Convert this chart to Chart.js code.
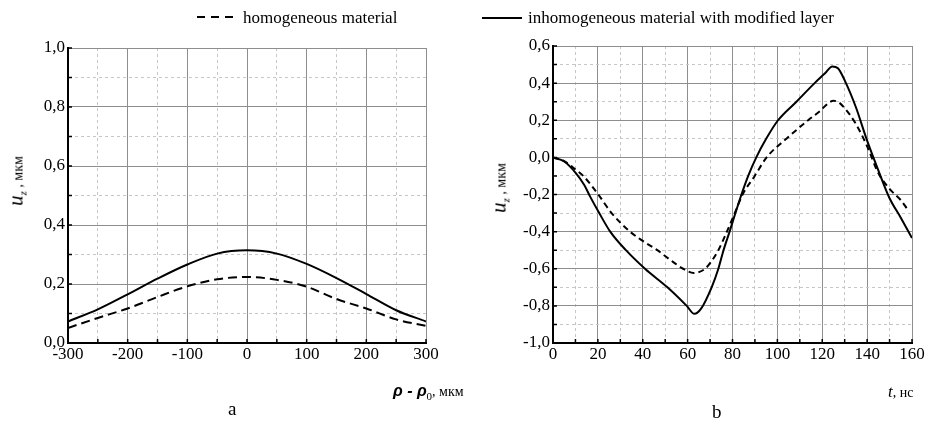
<!DOCTYPE html>
<html>
<head>
<meta charset="utf-8">
<script src="https://cdn.jsdelivr.net/npm/chart.js@4.4.0/dist/chart.umd.min.js"></script>
<style>
  body { margin: 0; background: #fff; font-family: "Liberation Serif", serif; }
  #wrap { position: relative; width: 933px; height: 423px; overflow: hidden; }
  .box { position: absolute; top: 0; height: 423px; }
  #boxA { left: 0; width: 470px; }
  #boxB { left: 466px; width: 467px; }
  .txt { position: absolute; white-space: nowrap; color: #000; line-height: 20px; }
  .leg { font-size: 17px; }
  .rho { font-family: "Liberation Sans", sans-serif; font-weight: bold; font-style: italic; font-size: 16px; }
  .unit { font-size: 14px; }
  .sub { font-size: 11px; position: relative; top: 4px; }
  .ytitle { transform: translate(-50%, -50%) rotate(-90deg); }
  .uz { font-style: italic; font-size: 21px; }
  .panel { font-size: 19px; }
</style>
</head>
<body>
<div id="wrap">
  <div class="box" id="boxA"><canvas id="chartA"></canvas></div>
  <div class="box" id="boxB"><canvas id="chartB"></canvas></div>

  <svg class="txt" style="left:196px; top:12px;" width="44" height="10">
    <line x1="1" y1="5" x2="43" y2="5" stroke="#000" stroke-width="2" stroke-dasharray="8,6"></line>
  </svg>
  <div class="txt leg" style="left:243px; top:8px;">homogeneous material</div>
  <svg class="txt" style="left:481px; top:13px;" width="42" height="10">
    <line x1="1" y1="5" x2="41" y2="5" stroke="#000" stroke-width="2"></line>
  </svg>
  <div class="txt leg" style="left:528px; top:8px;">inhomogeneous material with modified layer</div>

  <div class="txt ytitle" style="left:17px; top:181px;"><span class="uz">u</span><span class="sub"><i>z</i></span><span class="unit"> , мкм</span></div>
  <div class="txt ytitle" style="left:500px; top:188px;"><span class="uz">u</span><span class="sub"><i>z</i></span><span class="unit"> , мкм</span></div>

  <div class="txt" style="left:393px; top:381px;"><span class="rho">ρ - ρ</span><span class="sub">0</span><span class="unit">, мкм</span></div>
  <div class="txt" style="left:888px; top:382px;"><span style="font-style:italic; font-size:17px;">t</span><span class="unit">, нс</span></div>

  <div class="txt panel" style="left:228px; top:399px;">a</div>
  <div class="txt panel" style="left:712px; top:402px;">b</div>
</div>

<script>
// panel a: displacement vs radial offset
const rhoValues = [-300, -250, -200, -150, -100, -50, 0, 50, 100, 150, 200, 250, 300];
const uzModifiedA = [0.073, 0.114, 0.165, 0.218, 0.266, 0.303, 0.314, 0.303, 0.268, 0.22, 0.166, 0.111, 0.073];
const uzHomogeneousA = [0.051, 0.085, 0.117, 0.156, 0.192, 0.216, 0.224, 0.214, 0.191, 0.149, 0.117, 0.08, 0.058];

// panel b: displacement vs time
const tModified = [0, 5, 10, 14, 16.5, 20.6, 25.5, 32.5, 41, 51, 59.6, 63, 66, 70.7, 73.7, 76, 78.7, 81.3, 84, 87, 90.6, 95, 100.3, 108.5, 116.6, 121, 124.5, 127, 130, 135, 140, 145, 150, 155, 160];
const uzModifiedB = [0, -0.022, -0.082, -0.15, -0.21, -0.3, -0.4, -0.5, -0.6, -0.7, -0.8, -0.843, -0.815, -0.7, -0.6, -0.5, -0.4, -0.3, -0.2, -0.1, 0, 0.1, 0.2, 0.3, 0.4, 0.45, 0.49, 0.48, 0.415, 0.27, 0.09, -0.07, -0.22, -0.325, -0.435];
const tHomogeneous = [0, 5, 10, 13.5, 20.2, 26.1, 34.3, 40, 46.5, 52, 58, 62.7, 65, 67.8, 70, 73.7, 77.5, 81, 84.5, 89.9, 95.2, 104, 113.7, 119, 123, 125, 127.5, 130, 135, 140, 145, 150, 155, 158];
const uzHomogeneousB = [0, -0.02, -0.065, -0.1, -0.2, -0.3, -0.4, -0.45, -0.5, -0.55, -0.6, -0.623, -0.618, -0.6, -0.57, -0.5, -0.4, -0.3, -0.2, -0.1, 0, 0.1, 0.2, 0.25, 0.295, 0.305, 0.295, 0.265, 0.18, 0.06, -0.085, -0.17, -0.23, -0.28];

const tickFont = { family: 'Liberation Serif', size: 17 };
const majorColor = '#8e8e8e';
const minorColor = '#c6c6c6';

function toPoints(xs, ys) {
    return xs.map((x, i) => ({ x, y: ys[i] }));
}

// labels and solid lines only on the major steps
function isMajor(value, major) {
    return Math.abs(Math.round(value / major * 1000) % 1000) === 0;
}

function makeAxis(opts) {
    const { min, max, step, major, fmt, size, horizontal } = opts;
    return {
        type: 'linear',
        min, max,
        afterFit: scale => {
            if (horizontal) scale.height = size; else scale.width = size;
        },
        ticks: {
            stepSize: step,
            autoSkip: false,
            maxRotation: 0,
            padding: horizontal ? 1 : 3,
            color: '#000',
            font: tickFont,
            callback: v => isMajor(v, major) ? fmt(v) : ''
        },
        grid: {
            drawTicks: false,
            lineWidth: 1,
            color: ctx => ctx.tick && isMajor(ctx.tick.value, major) ? majorColor : minorColor
        },
        border: {
            display: true,
            color: '#000',
            width: 2,
            dash: ctx => ctx.tick && !isMajor(ctx.tick.value, major) ? [3, 3] : []
        }
    };
}

// small tick marks pointing into the plot
const innerTicks = {
    id: 'innerTicks',
    afterDraw(chart) {
        const { ctx, scales: { x, y } } = chart;
        ctx.save();
        ctx.strokeStyle = '#000';
        ctx.lineWidth = 1.5;
        ctx.beginPath();
        x.ticks.forEach((t, i) => {
            const px = x.getPixelForTick(i);
            ctx.moveTo(px, x.top);
            ctx.lineTo(px, x.top - 4);
        });
        y.ticks.forEach((t, i) => {
            const py = y.getPixelForTick(i);
            ctx.moveTo(y.right, py);
            ctx.lineTo(y.right + 4, py);
        });
        ctx.stroke();
        ctx.restore();
    }
};

function lineSet(points, dash) {
    return {
        data: points,
        borderColor: '#000',
        borderWidth: 2,
        borderDash: dash,
        pointRadius: 0,
        fill: false,
        cubicInterpolationMode: 'monotone'
    };
}

const fmt1 = v => v.toFixed(1).replace('.', ',');
const fmt0 = v => String(Math.round(v));

new Chart(document.getElementById('chartA'), {
    type: 'line',
    data: {
        datasets: [
            lineSet(toPoints(rhoValues, uzHomogeneousA), [9, 5]),
            lineSet(toPoints(rhoValues, uzModifiedA), [])
        ]
    },
    options: {
        responsive: true,
        maintainAspectRatio: false,
        animation: false,
        layout: { padding: { left: 0, top: 48, right: 44, bottom: 0 } },
        scales: {
            x: makeAxis({ min: -300, max: 300, step: 50, major: 100, fmt: fmt0, size: 80, horizontal: true }),
            y: makeAxis({ min: 0, max: 1, step: 0.1, major: 0.2, fmt: fmt1, size: 68 })
        },
        plugins: { legend: { display: false }, tooltip: { enabled: false } }
    },
    plugins: [innerTicks]
});

new Chart(document.getElementById('chartB'), {
    type: 'line',
    data: {
        datasets: [
            lineSet(toPoints(tHomogeneous, uzHomogeneousB), [6, 4]),
            lineSet(toPoints(tModified, uzModifiedB), [])
        ]
    },
    options: {
        responsive: true,
        maintainAspectRatio: false,
        animation: false,
        layout: { padding: { left: 0, top: 46, right: 21, bottom: 0 } },
        scales: {
            x: makeAxis({ min: 0, max: 160, step: 10, major: 20, fmt: fmt0, size: 80, horizontal: true }),
            y: makeAxis({ min: -1, max: 0.6, step: 0.1, major: 0.2, fmt: fmt1, size: 87 })
        },
        plugins: { legend: { display: false }, tooltip: { enabled: false } }
    },
    plugins: [innerTicks]
});
</script>
</body>
</html>
